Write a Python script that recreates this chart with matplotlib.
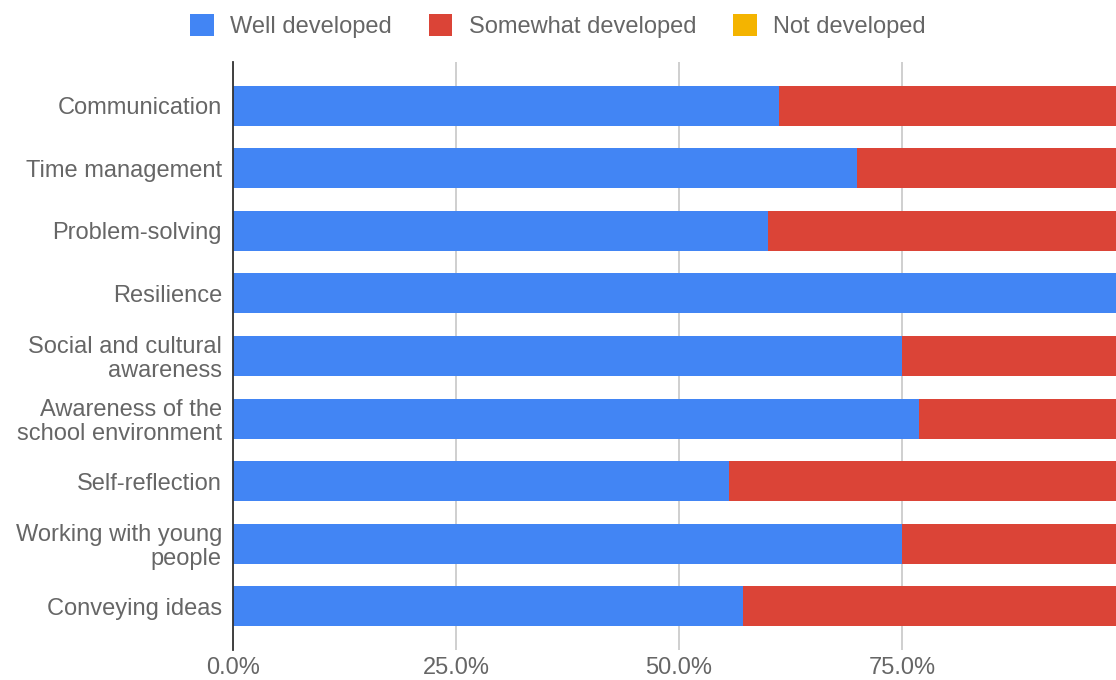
import numpy as np
import matplotlib.pyplot as plt
from matplotlib.ticker import PercentFormatter

plt.rcParams['font.family'] = ['Liberation Sans', 'DejaVu Sans']

# datos
skills = ['Communication', 'Time management', 'Problem-solving', 'Resilience',
          'Social and cultural\nawareness', 'Awareness of the\nschool environment',
          'Self-reflection', 'Working with young\npeople', 'Conveying ideas']
well     = [0.612, 0.700, 0.600, 1.000, 0.750, 0.769, 0.556, 0.750, 0.572]
somewhat = [0.388, 0.300, 0.400, 0.000, 0.250, 0.231, 0.444, 0.250, 0.428]
notdev   = [0, 0, 0, 0, 0, 0, 0, 0, 0]
series_names = ['Well developed', 'Somewhat developed', 'Not developed']
xticks = [0, 0.25, 0.5, 0.75]

colors = ['#4285F4', '#DB4437', '#F4B400']
txt = '#666666'

fig = plt.figure(figsize=[11.16, 6.8], dpi=100)
ax = fig.add_axes([233/1116, 1 - 650/680, 1 - 233/1116, 588/680])

y = np.arange(len(skills))
left = np.zeros(len(skills))
for vals, name, c in zip([well, somewhat, notdev], series_names, colors):
    ax.barh(y, vals, left=left, height=0.64, color=c, label=name, zorder=3)
    left += np.array(vals)

ax.set_ylim(8.7, -0.7)
ax.set_xlim(0, 0.99)
ax.set_yticks(y)
ax.set_yticklabels(skills, fontsize=17, color=txt, linespacing=1.1)
ax.set_xticks(xticks)
ax.xaxis.set_major_formatter(PercentFormatter(1.0, decimals=1))
ax.tick_params(axis='x', labelsize=17, labelcolor=txt, length=0, pad=5)
ax.tick_params(axis='y', length=0, pad=8)
ax.grid(True, axis='x', color='#cccccc', linewidth=1.3, zorder=0)

for s in ['top', 'right', 'bottom']:
    ax.spines[s].set_visible(False)
ax.spines['left'].set_color('#333333')
ax.spines['left'].set_linewidth(1.3)
ax.spines['left'].set_zorder(4)

fig.legend(loc='upper center', bbox_to_anchor=(0.5, 1.01), ncol=3, frameon=False,
           fontsize=17, labelcolor=txt, handlelength=1.0, handleheight=1.0,
           handletextpad=0.7, columnspacing=1.55)

fig.savefig('out.png', dpi=100)
